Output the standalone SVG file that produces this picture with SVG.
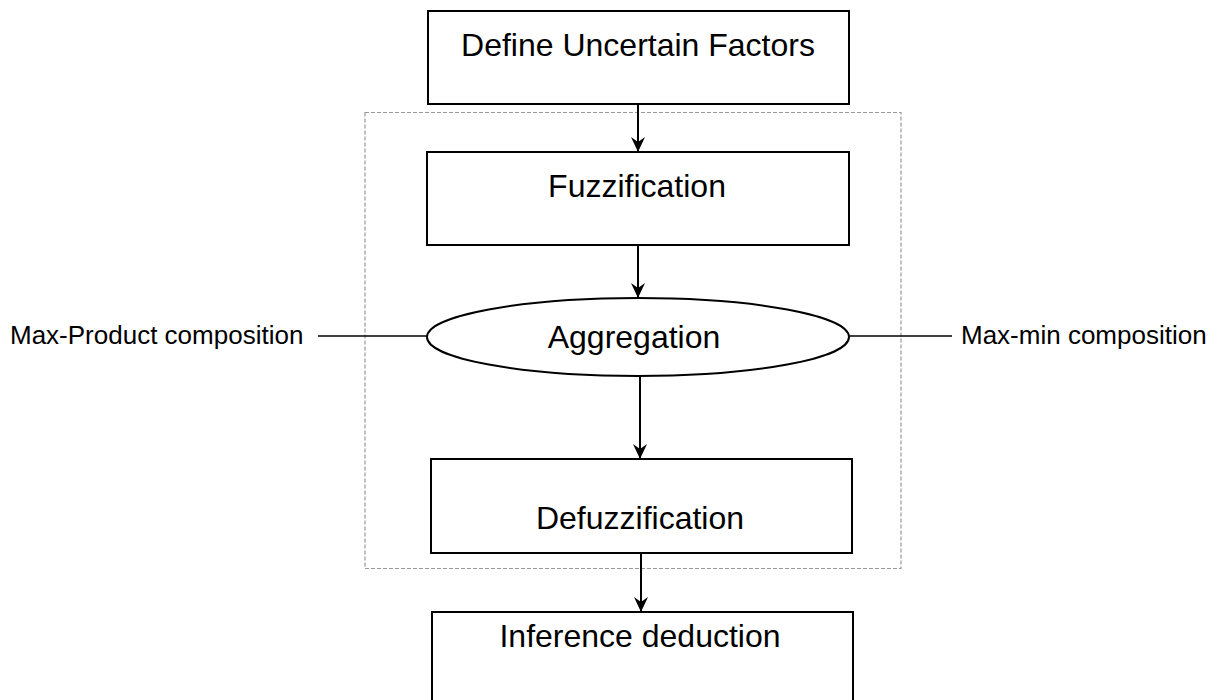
<svg xmlns="http://www.w3.org/2000/svg" width="1225" height="700" viewBox="0 0 1225 700">
  <defs>
    <marker id="arrow" markerWidth="16" markerHeight="16" viewBox="0 0 16 16" refX="15" refY="8" orient="auto" markerUnits="userSpaceOnUse">
      <path d="M0,1 L15,8 L0,15 L5,8 Z" fill="#000"/>
    </marker>
  </defs>
  <style>
    .box { fill: #fff; stroke: #000; stroke-width: 2; }
    .label { font-family: "Liberation Sans", Arial, sans-serif; font-size: 32px; fill: #000; text-anchor: middle; }
    .side { font-family: "Liberation Sans", Arial, sans-serif; font-size: 26px; fill: #000; }
    .conn { stroke: #000; stroke-width: 2; fill: none; }
    .tie { stroke: #000; stroke-width: 1.6; fill: none; }
    .group { fill: none; stroke: #999; stroke-width: 1.2; stroke-dasharray: 4 2; }
  </style>
  <rect width="1225" height="700" fill="#fff"/>

  <!-- dashed boundary around the fuzzy inference stages -->
  <rect id="stage-boundary" class="group" x="365" y="112.5" width="536" height="456"/>

  <g id="define-uncertain-factors">
    <rect class="box" x="428" y="11" width="421" height="93"/>
    <text class="label" x="638" y="56">Define Uncertain Factors</text>
  </g>

  <g id="fuzzification">
    <rect class="box" x="427" y="152" width="422" height="93"/>
    <text class="label" x="637" y="197">Fuzzification</text>
  </g>

  <g id="aggregation">
    <ellipse class="box" cx="638" cy="337" rx="211" ry="39"/>
    <text class="label" x="634" y="348">Aggregation</text>
  </g>

  <g id="defuzzification">
    <rect class="box" x="431" y="459" width="421" height="94"/>
    <text class="label" x="640" y="529">Defuzzification</text>
  </g>

  <g id="inference-deduction">
    <rect class="box" x="432" y="612" width="421" height="100"/>
    <text class="label" x="640" y="647">Inference deduction</text>
  </g>

  <g id="max-product">
    <text class="side" x="10" y="344">Max-Product composition</text>
  </g>

  <g id="max-min">
    <text class="side" x="961" y="344">Max-min composition</text>
  </g>

  <g id="connectors">
    <line class="conn" x1="638" y1="104" x2="638" y2="152" marker-end="url(#arrow)"/>
    <line class="conn" x1="638" y1="245" x2="638" y2="298" marker-end="url(#arrow)"/>
    <line class="conn" x1="640" y1="376" x2="640" y2="459" marker-end="url(#arrow)"/>
    <line class="conn" x1="641" y1="553" x2="641" y2="612" marker-end="url(#arrow)"/>
    <line class="tie" x1="318" y1="336" x2="427" y2="336"/>
    <line class="tie" x1="849" y1="336" x2="952" y2="336"/>
  </g>
</svg>
